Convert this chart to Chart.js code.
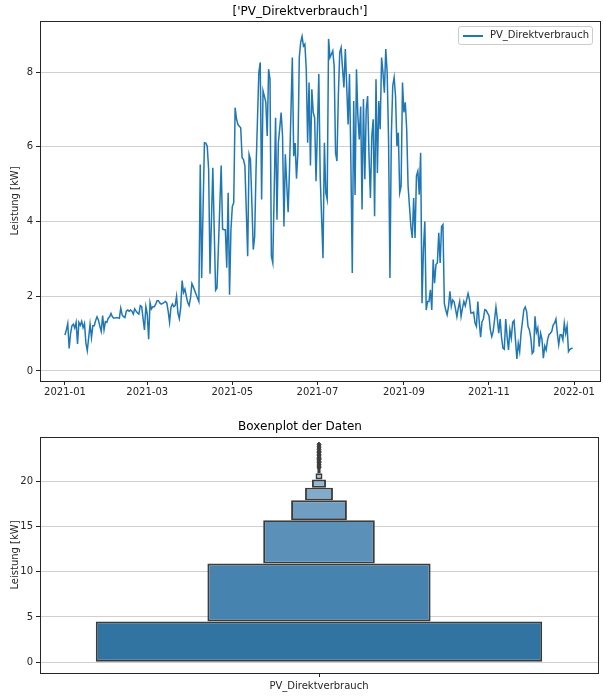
<!DOCTYPE html>
<html>
<head>
<meta charset="utf-8">
<script src="https://cdn.jsdelivr.net/npm/chart.js@4.4.1/dist/chart.umd.min.js"></script>
<style>
  body { margin: 0; background: #fff; width: 603px; height: 697px; position: relative; overflow: hidden; }
  canvas { position: absolute; left: 0; }
  #linie { top: 0; }
  #boxen { top: 410px; }
  #legende {
    position: absolute; left: 458px; top: 26px; width: 133px; height: 17px;
    border: 1px solid #cccccc; border-radius: 3px; background: rgba(255,255,255,0.8);
    font: 10px "DejaVu Sans"; color: #262626;
  }
  #legende .strich { position: absolute; left: 4px; top: 8px; width: 20px; height: 2px; background: #1f77b4; }
  #legende .text { position: absolute; left: 31px; top: 2px; }
</style>
</head>
<body>
<canvas id="linie" width="603" height="400"></canvas>
<canvas id="boxen" width="603" height="287"></canvas>
<div id="legende"><span class="strich"></span><span class="text">PV_Direktverbrauch</span></div>
<script>
// Tageswerte 2021 (Index 0 = 2021-01-01)
const tageswerte = [
  0.96, 1.1, 1.27, 0.6, 1.0, 1.21, 1.25, 1.15, 1.3, 0.72,
  1.3, 1.22, 1.33, 1.16, 1.27, 0.75, 0.54, 0.89, 1.25, 0.89,
  1.21, 1.21, 1.35, 1.45, 1.36, 1.2, 1.06, 1.48, 1.1, 1.32,
  1.3, 1.41, 1.45, 1.54, 1.45, 1.41, 1.42, 1.43, 1.42, 1.41,
  1.68, 1.5, 1.45, 1.43, 1.6, 1.63, 1.6, 1.63, 1.6, 1.52,
  1.66, 1.6, 1.55, 1.52, 1.75, 1.72, 1.4, 1.1, 1.72, 1.52,
  0.85, 1.83, 1.66, 1.72, 1.72, 1.78, 1.88, 1.88, 1.82, 1.79,
  1.81, 1.83, 1.86, 1.82, 1.6, 1.3, 1.7, 1.79, 1.72, 1.75,
  2.0, 1.55, 1.4, 1.7, 2.42, 2.1, 2.19, 2.0, 1.83, 1.75,
  1.95, 2.34, 2.25, 2.15, 2.05, 1.95, 1.86, 5.53, 2.49, 4.3,
  6.11, 6.1, 6.02, 5.4, 2.6, 4.0, 5.44, 3.8, 2.16, 2.22,
  3.3, 4.4, 5.5, 3.8, 3.78, 3.78, 2.76, 4.77, 2.04, 3.78,
  4.41, 4.5, 7.05, 6.74, 6.6, 6.55, 6.51, 5.71, 5.66, 5.49,
  4.3, 3.07, 5.8, 5.66, 4.5, 3.25, 3.6, 5.4, 6.7, 7.99,
  8.26, 4.59, 7.5, 7.35, 7.19, 6.29, 8.08, 7.81, 3.07, 2.89,
  4.8, 6.78, 4.05, 6.11, 6.5, 6.92, 6.29, 3.87, 5.8, 5.0,
  4.25, 5.4, 6.9, 8.39, 5.75, 6.1, 5.15, 5.84, 8.39, 8.8,
  8.96, 8.7, 8.75, 8.08, 6.11, 7.72, 5.5, 7.54, 6.92, 6.78,
  5.08, 6.5, 7.95, 5.2, 4.1, 3.02, 6.11, 4.77, 4.59, 8.89,
  8.39, 8.48, 8.57, 8.17, 5.84, 5.62, 7.36, 8.53, 8.66, 8.1,
  7.59, 8.62, 7.63, 6.6, 7.95, 5.57, 2.62, 7.23, 4.71, 8.08,
  6.83, 6.2, 7.08, 4.32, 7.28, 5.13, 7.0, 7.36, 5.75, 4.63,
  6.29, 6.74, 4.14, 7.81, 5.3, 7.23, 6.47, 8.39, 7.99, 7.45,
  8.62, 7.99, 6.2, 2.49, 6.29, 7.63, 7.86, 7.36, 6.02, 6.38,
  4.77, 4.95, 7.72, 6.92, 7.19, 6.47, 4.95, 4.41, 3.87, 3.56,
  4.63, 3.56, 5.22, 5.35, 4.72, 5.84, 1.81, 3.25, 4.0, 1.63,
  1.86, 1.86, 2.17, 1.63, 2.98, 2.35, 2.85, 2.89, 3.7, 2.89,
  3.87, 3.92, 1.81, 1.63, 1.5, 1.73, 2.13, 1.73, 1.9, 1.85,
  1.66, 1.45, 1.68, 1.86, 1.46, 1.68, 1.86, 1.74, 1.91, 2.07,
  1.91, 1.55, 1.55, 1.57, 1.28, 1.19, 1.86, 1.32, 0.9, 1.32,
  1.39, 1.64, 1.62, 1.55, 1.48, 1.1, 0.92, 1.06, 1.37, 1.71,
  1.39, 1.01, 1.39, 0.9, 0.61, 0.58, 1.39, 0.92, 0.56, 1.1,
  0.88, 1.3, 1.35, 0.83, 0.32, 0.74, 0.52, 1.01, 1.32, 1.64,
  1.71, 1.59, 1.19, 1.1, 0.88, 0.47, 0.52, 1.46, 1.03, 1.15,
  0.65, 1.01, 0.85, 0.34, 0.67, 0.56, 0.83, 0.97, 1.01, 1.06,
  1.23, 1.28, 1.39, 1.01, 0.7, 0.97, 0.97, 0.83, 1.28, 1.0,
  1.2, 0.52, 0.58, 0.6, 0.61
];

// x-Achse: Tage ab 2021-01-01
const tickTage = [0, 59, 120, 181, 243, 304, 365];
const tickLabels = ['2021-01', '2021-03', '2021-05', '2021-07', '2021-09', '2021-11', '2022-01'];

// Boxenplot (letter values)
const boxKategorie = 'PV_Direktverbrauch';
const boxUnten = [0, 4.5, 10.9, 15.7, 17.9, 19.3, 20.2, 20.9];
const boxOben  = [4.5, 10.9, 15.7, 17.9, 19.3, 20.2, 20.9, 21.4];
const ausreisser = [21.5, 21.6, 21.8, 21.9, 22.1, 22.2, 22.4, 22.5, 22.6, 22.8, 22.9, 23.0, 23.2, 23.3, 23.5, 23.7, 23.9, 24.1];

const boxFarben = ['rgb(50,116,161)', 'rgb(70,131,175)', 'rgb(91,145,185)', 'rgb(111,158,194)',
                   'rgb(130,171,203)', 'rgb(148,183,211)', 'rgb(165,194,219)', 'rgb(180,204,226)'];

Chart.defaults.font.family = '"DejaVu Sans"';
Chart.defaults.font.size = 10;
Chart.defaults.color = '#262626';
Chart.defaults.animation = false;

const gitterFarbe = 'rgba(176,176,176,0.6)';

// Rahmen um die Zeichenfläche wie bei matplotlib
const rahmen = {
  id: 'rahmen',
  afterDraw(chart) {
    const a = chart.chartArea;
    const ctx = chart.ctx;
    ctx.save();
    ctx.strokeStyle = '#262626';
    ctx.lineWidth = 1;
    ctx.strokeRect(Math.round(a.left) + 0.5, Math.round(a.top) + 0.5, Math.round(a.right - a.left), Math.round(a.bottom - a.top));
    ctx.restore();
  }
};

const yTitel = { display: true, text: 'Leistung [kW]', font: { size: 10 }, padding: { top: 9, bottom: 0 } };

new Chart(document.getElementById('linie'), {
  type: 'line',
  data: {
    datasets: [{
      label: 'PV_Direktverbrauch',
      data: tageswerte.map((v, i) => ({ x: i, y: v })),
      borderColor: '#1f77b4',
      borderWidth: 1.5,
      pointRadius: 0,
      tension: 0,
      fill: false
    }]
  },
  options: {
    responsive: false,
    devicePixelRatio: 1,
    layout: { padding: { right: 3 } },
    plugins: {
      legend: { display: false },
      tooltip: { enabled: false },
      title: { display: true, text: "['PV_Direktverbrauch']", font: { size: 12, weight: 'normal' }, padding: { top: 5, bottom: 1.6 }, color: '#000' }
    },
    scales: {
      x: {
        type: 'linear',
        min: -17.9,
        max: 383.6,
        afterBuildTicks: (s) => { s.ticks = tickTage.map(v => ({ value: v })); },
        afterFit: (s) => { s.height = 19; },
        ticks: { callback: (v, i) => tickLabels[i], padding: 1, maxRotation: 0, autoSkip: false },
        grid: { drawOnChartArea: false, tickLength: 4, tickColor: '#262626' },
        border: { display: false }
      },
      y: {
        min: -0.27,
        max: 9.37,
        afterFit: (s) => { s.width = 40; },
        ticks: { stepSize: 2, includeBounds: false, padding: 3 },
        grid: { color: gitterFarbe, lineWidth: 1, tickLength: 4, tickColor: '#262626' },
        border: { display: false },
        title: yTitel
      }
    }
  },
  plugins: [rahmen]
});

const boxDatasets = boxUnten.map((lo, k) => ({
  type: 'bar',
  label: 'Stufe ' + (k + 1),
  data: [[lo, boxOben[k]]],
  backgroundColor: boxFarben[k],
  borderColor: 'rgb(60,60,60)',
  borderWidth: 1.9,
  borderSkipped: false,
  grouped: false,
  categoryPercentage: 1,
  barPercentage: 0.8 / Math.pow(2, k)
}));

boxDatasets.push({
  type: 'line',
  label: 'Ausreißer',
  data: ausreisser.map(v => ({ x: boxKategorie, y: v })),
  showLine: false,
  pointStyle: 'rectRot',
  pointRadius: 2.1,
  backgroundColor: 'rgb(60,60,60)',
  borderColor: 'rgb(60,60,60)',
  borderWidth: 1
});

new Chart(document.getElementById('boxen'), {
  type: 'bar',
  data: { labels: [boxKategorie], datasets: boxDatasets },
  options: {
    responsive: false,
    devicePixelRatio: 1,
    layout: { padding: { right: 3 } },
    plugins: {
      legend: { display: false },
      tooltip: { enabled: false },
      title: { display: true, text: 'Boxenplot der Daten', font: { size: 12, weight: 'normal' }, padding: { top: 10, bottom: 2.6 }, color: '#000' }
    },
    scales: {
      x: {
        type: 'category',
        offset: true,
        afterFit: (s) => { s.height = 24; },
        ticks: { padding: 3 },
        grid: { drawOnChartArea: false, offset: false, tickLength: 4, tickColor: '#262626' },
        border: { display: false }
      },
      y: {
        min: -1.2,
        max: 24.9,
        z: 1,
        afterFit: (s) => { s.width = 40; },
        ticks: { stepSize: 5, includeBounds: false, padding: 3 },
        grid: { color: gitterFarbe, lineWidth: 1, tickLength: 4, tickColor: '#262626' },
        border: { display: false },
        title: yTitel
      }
    }
  },
  plugins: [rahmen]
});
</script>
</body>
</html>
